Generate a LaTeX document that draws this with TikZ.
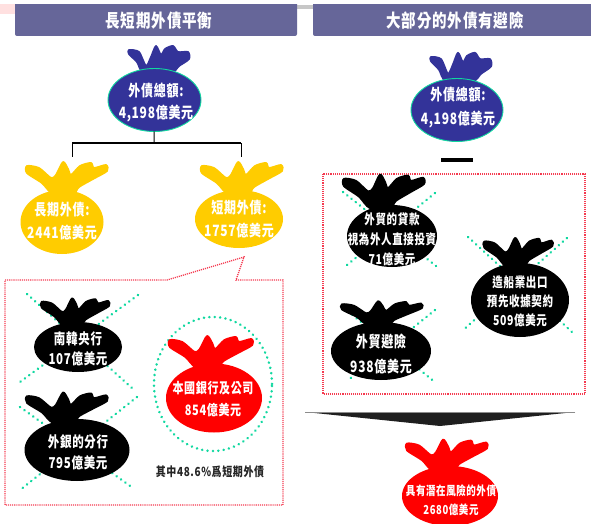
\documentclass[tikz,border=0pt]{standalone}
\usepackage{fontspec}
\setmainfont[LetterSpace=6]{Noto Sans CJK TC}
\usetikzlibrary{shapes.geometric}
\definecolor{hdr}{HTML}{666699}
\definecolor{bagblue}{HTML}{333399}
\definecolor{bagyellow}{HTML}{FFCC00}
\definecolor{bagred}{HTML}{FF0000}
\definecolor{dots}{HTML}{10D8A0}
\definecolor{boxred}{HTML}{F53A50}
\tikzset{
  x=1pt,y=-1pt,
  header/.style={fill=hdr,draw=none,rounded corners=2pt},
  headertext/.style={text=white,font=\bfseries\fontsize{14.5}{18}\selectfont,inner sep=0pt},
  bagbody/.style={ellipse,inner sep=0pt,outer sep=0pt,draw=none},
  baglabel/.style={inner sep=0pt,outer sep=0pt,text=white,font=\bfseries},
  rim/.style={draw=dots,line width=.9pt},
  dotline/.style={draw=dots,line width=2.6pt,line cap=round,dash pattern=on 0.2pt off 5.2pt},
  redbox/.style={draw=boxred,line width=1.3pt,dash pattern=on 1.1pt off 1pt},
  tree/.style={draw=black,line width=1pt},
  leafstroke/.style={line width=1.8pt,line join=round},
}
% wide leaf crown: origin at top of the bag
\newcommand\wideleaves[5]{%
  \filldraw[#5,leafstroke,shift={(#1,#2)},xscale=#3,yscale=#4]
    plot[smooth cycle,tension=.45] coordinates {(-10,3) (-21,-8) (-36,-18) (-36,-25) (-24,-23) (-12,-13) (-7,-16) (0,-29) (5,-22) (8,-16) (17,-25) (28,-28) (31,-23) (43,-26) (44,-20) (30,-12) (16,-4) (10,3)};}
% narrow leaf crown
\newcommand\narrowleaves[5]{%
  \filldraw[#5,leafstroke,shift={(#1,#2)},xscale=#3,yscale=#4]
    plot[smooth cycle,tension=.45] coordinates {(-9,3) (-16,-8) (-24,-16) (-24,-20) (-14,-18) (-7,-4) (-2,-13) (3,-24) (8,-15) (12,-21) (20,-24) (25,-18) (35,-18) (36,-11) (26,-4) (18,3)};}
% name, x, y, skip, size, lines
\newcommand\baglines[6]{%
  \pgfmathsetmacro\skp{#4/1.3}%
  \node[baglabel] (#1) at (#2,#3) {\scalebox{1}[1.3]{\fontsize{#5}{\skp}\selectfont\setlength{\tabcolsep}{0pt}\begin{tabular}{c}#6\end{tabular}}};}
\begin{document}
\begin{tikzpicture}
\useasboundingbox (0,0) rectangle (591,524);
\fill[white] (0,0) rectangle (591,524);
% header decoration
\fill[red!12] (0,4) rectangle (15,14);
\fill[black!22] (297,5) rectangle (313,9);
\fill[header] (15,2) rectangle (297,36);
\fill[header] (313,2) rectangle (595,36);
\fill[white] (0,0) rectangle (591,4);
\node[headertext] (h1) at (159,21) {\scalebox{1}[1.25]{長短期外債平衡}};
\node[headertext] (h2) at (455,21) {\scalebox{1}[1.25]{大部分的外債有避險}};

% frames
\draw[redbox] (5,280) -- (167,280) -- (244,257) -- (236,280) -- (283,280) -- (283,505) -- (5,505) -- cycle;
\draw[redbox] (323,174) rectangle (585,394);

% dotted crosses and ring
\draw[dotline] (27,294) -- (132,388);
\draw[dotline] (138,295) -- (20,382);
\draw[dotline] (20,407) -- (133,488);
\draw[dotline] (137,397) -- (20,490);
\draw[dotline] (343,192) -- (436,266);
\draw[dotline] (435,193) -- (347,265);
\draw[dotline] (468,237) -- (572,332);
\draw[dotline] (567,238) -- (462,331);
\draw[dotline] (344,308) -- (436,383);
\draw[dotline] (435,310) -- (347,381);
\node[ellipse,dotline,minimum width=118pt,minimum height=134pt,inner sep=0pt] (ring) at (213,384) {};

% blue bags
\narrowleaves{153}{70}{1}{1}{bagblue}
\node[bagbody,fill=bagblue,rim,minimum width=93pt,minimum height=63pt] (total1) at (154.5,100) {};
\baglines{total1t}{156}{103}{22}{12}{外債總額:\\4,198億美元}
\narrowleaves{455}{78}{1}{1.05}{bagblue}
\node[bagbody,fill=bagblue,rim,minimum width=92pt,minimum height=63pt] (total2) at (457,110) {};
\baglines{total2t}{458}{108}{24}{12}{外債總額:\\4,198億美元}

% yellow bags
\wideleaves{63}{191}{1}{1}{bagyellow}
\node[bagbody,fill=bagyellow,minimum width=83pt,minimum height=64pt] (long) at (62,222) {};
\baglines{longt}{62}{222}{23}{12}{長期外債:\\2441億美元}
\wideleaves{238}{191}{1}{1}{bagyellow}
\node[bagbody,fill=bagyellow,minimum width=88pt,minimum height=58pt] (short) at (239,219) {};
\baglines{shortt}{239}{220}{23}{12}{短期外債:\\1757億美元}

% tree
\coordinate (junction) at (154,143);
\coordinate (treeL) at (72,143);
\coordinate (treeR) at (241,143);
\coordinate (dropL) at (72,157);
\coordinate (dropR) at (241,157);
\draw[tree] (total1) -- (junction);
\draw[tree,line width=2pt] (treeL) -- (treeR);
\draw[tree] (treeL) -- (dropL);
\draw[tree] (treeR) -- (dropR);
\coordinate (barL) at (441,160);
\coordinate (barR) at (472.5,160);
\draw[black,line width=4pt] (barL) -- (barR);

% left frame bags
\wideleaves{72}{323}{.84}{.85}{black}
\node[bagbody,fill=black,minimum width=88pt,minimum height=50pt] (bok) at (78,347) {};
\baglines{bokt}{78}{350}{20}{11.5}{南韓央行\\107億美元}
\wideleaves{63}{420}{1}{.95}{black}
\node[bagbody,fill=black,minimum width=105pt,minimum height=62pt] (foreign) at (77,450) {};
\baglines{foreignt}{78}{453.5}{21}{11.5}{外銀的分行\\795億美元}
\wideleaves{207}{365}{1.03}{1}{bagred}
\node[bagbody,fill=bagred,minimum width=96pt,minimum height=69pt] (local) at (214,398) {};
\baglines{localt}{213}{400}{22}{11}{本國銀行及公司\\854億美元}
\node[inner sep=0pt,text=black!85,font=\bfseries] (note) at (210,472) {\scalebox{1}[1.25]{\fontsize{10}{13}\selectfont 其中48.6\%爲短期外債}};

% right frame bags
\wideleaves{380}{205}{1}{1.05}{black}
\node[bagbody,fill=black,minimum width=90pt,minimum height=62pt] (loan) at (392,236) {};
\baglines{loant}{392}{240}{20}{10.5}{外貿的貸款\\視為外人直接投資\\71億美元}
\wideleaves{515}{264}{.85}{.9}{black}
\node[bagbody,fill=black,minimum width=98pt,minimum height=74pt] (ship) at (520,300) {};
\baglines{shipt}{520}{303}{19}{10.5}{造船業出口\\預先收據契約\\509億美元}
\wideleaves{378}{323}{1}{.75}{black}
\node[bagbody,fill=black,minimum width=100pt,minimum height=58pt] (trade) at (381,351) {};
\baglines{tradet}{381}{355}{25}{12}{外貿避險\\938億美元}

% big arrow
\fill[black!88] (305,412) -- (575,412) -- (440,426) -- cycle;
\draw[black!45,line width=.6pt] (305,412) -- (575,412);

% red result bag
\wideleaves{443}{468}{1}{.98}{bagred}
\node[bagbody,fill=bagred,minimum width=96pt,minimum height=60pt] (risk) at (450,496) {};
\baglines{riskt}{451}{501}{19}{9.5}{具有潛在風險的外債\\2680億美元}
\end{tikzpicture}
\end{document}
